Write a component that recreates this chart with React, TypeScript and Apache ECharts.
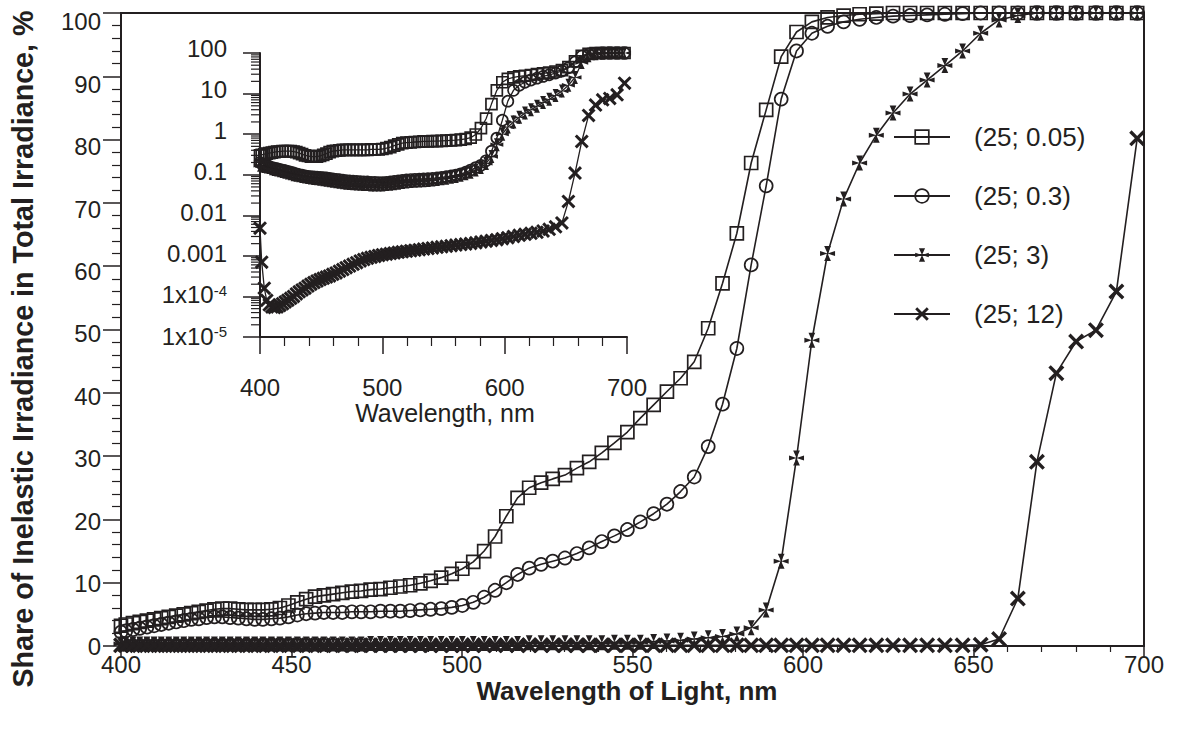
import React, { useEffect, useRef } from 'react';
import * as echarts from 'echarts';

// ---------- data ----------
const WAVELENGTH = [400.0, 401.4, 403.5, 405.5, 407.6, 409.7, 411.8, 414.0, 416.2, 418.4, 420.6, 422.8, 425.1, 427.4, 429.7, 432.0, 434.4, 436.8, 439.2, 441.6, 444.1, 446.6, 449.1, 451.7, 454.3, 456.9, 459.5, 462.2, 464.9, 467.7, 470.4, 473.2, 476.1, 479.0, 481.9, 484.8, 487.8, 490.8, 493.9, 497.0, 500.1, 503.3, 506.5, 509.7, 513.0, 516.3, 519.7, 523.2, 526.6, 530.2, 533.7, 537.3, 541.0, 544.7, 548.5, 552.3, 556.2, 560.1, 564.1, 568.1, 572.2, 576.4, 580.6, 584.8, 589.2, 593.6, 598.1, 602.6, 607.2, 611.9, 616.6, 621.5, 626.4, 631.4, 636.4, 641.6, 646.8, 652.1, 657.5, 663.0, 668.6, 674.3, 680.1, 685.9, 691.9, 698.0];

const NAMES = ['(25; 0.05)', '(25; 0.3)', '(25; 3)', '(25; 12)'];

// main panel, share in %
const MAIN_005 = [3.2, 3.4, 3.6, 3.8, 4.0, 4.2, 4.4, 4.6, 4.8, 5.0,
  5.2, 5.4, 5.6, 5.8, 5.9, 5.9, 5.8, 5.7, 5.7, 5.7,
  5.8, 6.0, 6.4, 6.9, 7.4, 7.8, 8.0, 8.2, 8.4, 8.6,
  8.7, 8.9, 9.0, 9.2, 9.4, 9.6, 9.9, 10.3, 10.8, 11.4,
  12.2, 13.3, 15.0, 17.3, 20.5, 23.4, 25.0, 25.8, 26.4, 27.0,
  28.1, 29.1, 30.5, 32.1, 33.8, 36.0, 38.1, 40.2, 42.3, 44.9,
  50.2, 57.3, 65.2, 76.3, 84.7, 93.1, 97.0, 98.6, 99.3, 99.6,
  99.8, 99.9, 100, 100, 100, 100, 100, 100, 100, 100,
  100, 100, 100, 100, 100, 100];
const MAIN_03 = [2.2, 2.4, 2.6, 2.8, 3.0, 3.2, 3.4, 3.6, 3.8, 4.0,
  4.2, 4.3, 4.5, 4.6, 4.6, 4.5, 4.4, 4.3, 4.2, 4.2,
  4.3, 4.4, 4.6, 4.9, 5.1, 5.2, 5.3, 5.3, 5.3, 5.4,
  5.4, 5.4, 5.5, 5.5, 5.5, 5.6, 5.7, 5.8, 5.9, 6.1,
  6.4, 6.9, 7.7, 8.8, 10.0, 11.3, 12.3, 12.9, 13.4, 13.9,
  14.6, 15.5, 16.5, 17.4, 18.4, 19.6, 20.9, 22.4, 24.4, 26.7,
  31.5, 38.2, 47.0, 60.2, 72.7, 86.4, 94.0, 96.8, 97.9, 98.6,
  99.0, 99.3, 99.5, 99.6, 99.7, 99.8, 99.9, 100, 100, 100,
  100, 100, 100, 100, 100, 100];
const MAIN_3 = [0.3, 0.3, 0.3, 0.3, 0.3, 0.3, 0.3, 0.3, 0.3, 0.3,
  0.3, 0.3, 0.3, 0.3, 0.3, 0.3, 0.3, 0.3, 0.3, 0.3,
  0.3, 0.3, 0.3, 0.3, 0.3, 0.3, 0.3, 0.3, 0.3, 0.3,
  0.3, 0.4, 0.4, 0.4, 0.4, 0.4, 0.4, 0.4, 0.4, 0.4,
  0.4, 0.4, 0.4, 0.4, 0.4, 0.4, 0.5, 0.5, 0.5, 0.5,
  0.5, 0.5, 0.5, 0.6, 0.6, 0.6, 0.7, 0.8, 0.9, 1.1,
  1.3, 1.5, 1.9, 2.9, 5.7, 13.4, 29.7, 48.3, 62.0, 70.6,
  76.3, 80.7, 84.2, 87.2, 89.4, 91.7, 94.0, 96.8, 98.9, 99.6,
  100, 100, 100, 100, 100, 100];
const MAIN_12 = [0.1, 0.1, 0.1, 0.1, 0.1, 0.1, 0.1, 0.1, 0.1, 0.1,
  0.1, 0.1, 0.1, 0.1, 0.1, 0.1, 0.1, 0.1, 0.1, 0.1,
  0.1, 0.1, 0.1, 0.1, 0.1, 0.1, 0.1, 0.1, 0.1, 0.1,
  0.1, 0.1, 0.1, 0.1, 0.1, 0.1, 0.1, 0.1, 0.1, 0.1,
  0.1, 0.1, 0.1, 0.1, 0.1, 0.1, 0.1, 0.1, 0.1, 0.1,
  0.1, 0.1, 0.1, 0.1, 0.1, 0.1, 0.1, 0.1, 0.1, 0.1,
  0.1, 0.1, 0.1, 0.1, 0.1, 0.1, 0.1, 0.1, 0.1, 0.1,
  0.1, 0.1, 0.1, 0.1, 0.1, 0.1, 0.1, 0.2, 1.1, 7.5,
  29.1, 43.1, 48.1, 49.9, 56.0, 80.2];

// inset panel (log scale)
const INSET_005 = [0.30, 0.31, 0.32, 0.33, 0.34, 0.35, 0.36, 0.37, 0.37, 0.38,
  0.38, 0.38, 0.38, 0.37, 0.36, 0.34, 0.32, 0.30, 0.29, 0.28,
  0.28, 0.28, 0.29, 0.31, 0.33, 0.36, 0.38, 0.39, 0.40, 0.41,
  0.41, 0.41, 0.41, 0.41, 0.41, 0.41, 0.41, 0.42, 0.42, 0.42,
  0.43, 0.45, 0.48, 0.52, 0.56, 0.60, 0.62, 0.63, 0.64, 0.65,
  0.66, 0.66, 0.67, 0.67, 0.68, 0.69, 0.70, 0.71, 0.73, 0.76,
  0.82, 0.98, 1.4, 2.4, 5.5, 12, 19, 23, 25, 26.5,
  27.5, 28.7, 30, 31.5, 33, 35, 38, 45, 62, 85,
  95, 99, 100, 100, 100, 100];
const INSET_03 = [0.20, 0.19, 0.18, 0.17, 0.16, 0.15, 0.145, 0.14, 0.135, 0.13,
  0.125, 0.12, 0.115, 0.11, 0.105, 0.10, 0.097, 0.094, 0.091, 0.089,
  0.088, 0.087, 0.086, 0.085, 0.083, 0.081, 0.079, 0.077, 0.075, 0.073,
  0.071, 0.070, 0.069, 0.068, 0.067, 0.066, 0.066, 0.065, 0.065, 0.064,
  0.064, 0.065, 0.066, 0.068, 0.070, 0.072, 0.074, 0.076, 0.077, 0.078,
  0.079, 0.080, 0.081, 0.083, 0.086, 0.089, 0.093, 0.098, 0.105, 0.115,
  0.13, 0.15, 0.17, 0.22, 0.38, 0.8, 2.2, 6.5, 12, 16,
  19, 21.6, 24, 26.5, 29, 32, 36, 43, 60, 84,
  95, 99, 100, 100, 100, 100];
const INSET_3 = [0.17, 0.165, 0.16, 0.155, 0.15, 0.14, 0.135, 0.13, 0.125, 0.12,
  0.115, 0.11, 0.105, 0.10, 0.097, 0.094, 0.091, 0.088, 0.085, 0.083,
  0.081, 0.079, 0.077, 0.075, 0.073, 0.071, 0.069, 0.067, 0.065, 0.063,
  0.062, 0.061, 0.060, 0.059, 0.058, 0.057, 0.057, 0.056, 0.056, 0.056,
  0.056, 0.057, 0.058, 0.060, 0.062, 0.064, 0.066, 0.068, 0.069, 0.070,
  0.071, 0.072, 0.074, 0.076, 0.079, 0.082, 0.086, 0.091, 0.097, 0.105,
  0.115, 0.13, 0.15, 0.19, 0.28, 0.55, 1.0, 1.5, 2.0, 2.6,
  3.3, 4.0, 4.9, 6.0, 7.2, 9.0, 11.5, 16, 25, 58,
  85, 96, 99, 100, 100, 100];
const INSET_12 = [0.0048, 0.0007, 0.00016, 0.00008, 0.000062, 0.000055, 0.000053, 0.000055, 0.00006, 0.000066,
  0.000073, 0.000081, 0.00009, 0.0001, 0.000115, 0.00013, 0.000145, 0.00016, 0.00018, 0.0002,
  0.00022, 0.00024, 0.00026, 0.00028, 0.0003, 0.00032, 0.00035, 0.00038, 0.00042, 0.00046,
  0.00051, 0.00056, 0.00062, 0.00068, 0.00075, 0.00081, 0.00087, 0.00092, 0.00097, 0.00102,
  0.00107, 0.0011, 0.00114, 0.00118, 0.00122, 0.00126, 0.0013, 0.00134, 0.00138, 0.00142,
  0.00147, 0.00152, 0.00157, 0.00162, 0.00167, 0.00172, 0.00178, 0.00184, 0.0019, 0.00196,
  0.00203, 0.0021, 0.0022, 0.0023, 0.0024, 0.0025, 0.00265, 0.0028, 0.003, 0.0032,
  0.0034, 0.0036, 0.0038, 0.0041, 0.0045, 0.0052, 0.0065, 0.022, 0.11, 0.66,
  2.9, 5.2, 7.0, 7.6, 9.3, 18];

const INSET_Y_LABELS = ['1x10{sup|-5}', '1x10{sup|-4}', '0.001', '0.01', '0.1', '1', '10', '100'];
const INSET_DECADES = [1e-5, 1e-4, 1e-3, 1e-2, 1e-1, 1, 10];
const MINOR_MULTIPLIERS = [2, 3, 4, 5, 6, 7, 8, 9];

const Y_TITLE = 'Share of Inelastic Irradiance in Total Irradiance, %';
const X_TITLE = 'Wavelength of Light, nm';
const INSET_X_TITLE = 'Wavelength, nm';

// ---------- styles ----------
const INK = '#231f20';
const NOFILL = 'rgba(0,0,0,0)';
const FONT = "'Liberation Sans', Arial, Helvetica, sans-serif";
const STAR = 'path://M0,0 L-3.6,-9 L3.6,-9 Z M0,0 L-3.6,9 L3.6,9 Z M0,0 L-8,-3 L-8,3 Z M0,0 L8,-3 L8,3 Z';
const XMARK = 'path://M-8,-5.6 L-5.6,-8 L0,-2.4 L5.6,-8 L8,-5.6 L2.4,0 L8,5.6 L5.6,8 L0,2.4 L-5.6,8 L-8,5.6 L-2.4,0 Z';

const SYMBOLS = [
  { symbol: 'rect', filled: false, main: 13, inset: 11 },
  { symbol: 'circle', filled: false, main: 13, inset: 11 },
  { symbol: STAR, filled: true, main: 15, inset: 13 },
  { symbol: XMARK, filled: true, main: 16, inset: 14 },
];

function markerStyle(filled: boolean) {
  return filled
    ? { color: INK, borderColor: INK, borderWidth: 0 }
    : { color: NOFILL, borderColor: INK, borderWidth: 1.7 };
}

function lineSeries(idx: number, values: number[], panel: 0 | 1) {
  const s = SYMBOLS[idx];
  return {
    type: 'line',
    name: NAMES[idx],
    xAxisIndex: panel,
    yAxisIndex: panel,
    data: WAVELENGTH.map((w, i) => [w, values[i]]),
    symbol: s.symbol,
    symbolSize: panel === 0 ? s.main : s.inset,
    showSymbol: true,
    clip: false,
    lineStyle: { color: INK, width: panel === 0 ? 1.6 : 1.3 },
    itemStyle: markerStyle(s.filled),
    emphasis: { disabled: true },
    z: 3 + idx,
  };
}

const axisCommon = {
  axisLine: { show: true, lineStyle: { color: INK, width: 2 } },
  splitLine: { show: false },
  minorSplitLine: { show: false },
};

const hiddenAxis = {
  axisLine: { show: false }, axisTick: { show: false }, splitLine: { show: false },
};

export default function App() {
  const ref = useRef<HTMLDivElement>(null);
  useEffect(() => {
    if (!ref.current) return;
    const chart = echarts.init(ref.current, null, { renderer: 'svg' });
    const minorTickData = INSET_DECADES.flatMap((d) => MINOR_MULTIPLIERS.map((m) => [400, m * d]));
    const option: any = {
      animation: false,
      backgroundColor: '#ffffff',
      textStyle: { fontFamily: FONT, color: INK },
      grid: [
        { left: 121, top: 13, width: 1023, height: 633, show: true, borderColor: INK, borderWidth: 2, containLabel: false, outerBoundsMode: 'none' },
        { left: 260, top: 53, width: 367, height: 284, containLabel: false, outerBoundsMode: 'none' },
        // label-only frame for the inset's printed decade labels
        { left: 260, top: 48, width: 367, height: 288, containLabel: false, outerBoundsMode: 'none' },
      ],
      xAxis: [
        {
          ...axisCommon, type: 'value', gridIndex: 0, min: 400, max: 700, interval: 50,
          axisTick: { show: true, length: 10, lineStyle: { color: INK, width: 1.5 } },
          minorTick: { show: true, splitNumber: 5, length: 6, lineStyle: { color: INK, width: 1.2 } },
          axisLabel: { fontSize: 24, color: INK, fontFamily: FONT, margin: 6 },
        },
        {
          ...axisCommon, type: 'value', gridIndex: 1, min: 400, max: 700, interval: 100,
          axisTick: { show: true, length: 17, lineStyle: { color: INK, width: 1.5 } },
          minorTick: { show: true, splitNumber: 5, length: 9, lineStyle: { color: INK, width: 1.2 } },
          axisLabel: { fontSize: 24, color: INK, fontFamily: FONT, margin: 38 },
        },
        {
          ...hiddenAxis, type: 'value', gridIndex: 2, min: 400, max: 700, axisLabel: { show: false },
        },
      ],
      yAxis: [
        {
          ...axisCommon, type: 'value', gridIndex: 0, min: 0, max: 100, interval: 10,
          axisTick: { show: true, length: 18, lineStyle: { color: INK, width: 1.5 } },
          minorTick: { show: true, splitNumber: 5, length: 9, lineStyle: { color: INK, width: 1.2 } },
          axisLabel: { show: false },
        },
        {
          ...axisCommon, type: 'log', logBase: 10, gridIndex: 1, min: 1e-5, max: 100,
          axisTick: { show: true, length: 17, lineStyle: { color: INK, width: 1.5 } },
          minorTick: { show: false },
          axisLabel: { show: false },
        },
        {
          // label-only axis: the printed tick labels sit on a slightly tighter scale than the ticks
          ...hiddenAxis, type: 'value', gridIndex: 0, position: 'left', min: 0, max: 101.4, interval: 10,
          axisLabel: {
            fontSize: 24, color: INK, fontFamily: FONT, margin: 20,
            formatter: (v: number) => (v <= 100 ? String(v) : ''),
          },
        },
        {
          ...hiddenAxis, type: 'log', logBase: 10, gridIndex: 2, min: 1e-5, max: 100,
          axisLabel: {
            fontSize: 24, color: INK, fontFamily: FONT, margin: 33,
            formatter: (v: number) => INSET_Y_LABELS[Math.round(Math.log10(v)) + 5] ?? '',
            rich: {
              sup: { fontSize: 15, color: INK, fontFamily: FONT, verticalAlign: 'top', lineHeight: 15 },
            },
          },
        },
      ],
      legend: {
        data: NAMES.map((n, i) => ({ name: n, itemStyle: markerStyle(SYMBOLS[i].filled) })),
        orient: 'vertical',
        left: 888,
        top: 119,
        itemWidth: 56,
        itemHeight: 17,
        itemGap: 33,
        selectedMode: false,
        textStyle: { fontSize: 26, color: INK, fontFamily: FONT, padding: [0, 0, 0, 19] },
      },
      series: [
        lineSeries(0, MAIN_005, 0),
        lineSeries(1, MAIN_03, 0),
        lineSeries(2, MAIN_3, 0),
        lineSeries(3, MAIN_12, 0),
        lineSeries(0, INSET_005, 1),
        lineSeries(1, INSET_03, 1),
        lineSeries(2, INSET_3, 1),
        lineSeries(3, INSET_12, 1),
        {
          type: 'custom',
          xAxisIndex: 1,
          yAxisIndex: 1,
          data: minorTickData,
          clip: false,
          silent: true,
          z: 2,
          renderItem: (_p: any, api: any) => {
            const pt = api.coord([api.value(0), api.value(1)]);
            return {
              type: 'line',
              shape: { x1: pt[0] - 9, y1: pt[1], x2: pt[0], y2: pt[1] },
              style: { stroke: INK, lineWidth: 1.2 },
            };
          },
        },
      ],
      graphic: [
        {
          type: 'text', x: 23, y: 349, rotation: Math.PI / 2,
          style: { text: Y_TITLE, fontSize: 28.7, fontWeight: 'bold', fontFamily: FONT, fill: INK, align: 'center', verticalAlign: 'middle' },
        },
        {
          type: 'text', x: 627, y: 691,
          style: { text: X_TITLE, fontSize: 26, fontWeight: 'bold', fontFamily: FONT, fill: INK, align: 'center', verticalAlign: 'middle' },
        },
        {
          type: 'text', x: 445, y: 413,
          style: { text: INSET_X_TITLE, fontSize: 25, fontFamily: FONT, fill: INK, align: 'center', verticalAlign: 'middle' },
        },
      ],
    };
    chart.setOption(option);
    return () => chart.dispose();
  }, []);
  return (
    <div
      ref={ref}
      style={{ position: 'absolute', left: 0, top: 0, width: 1177, height: 736, background: '#fff' }}
    />
  );
}
